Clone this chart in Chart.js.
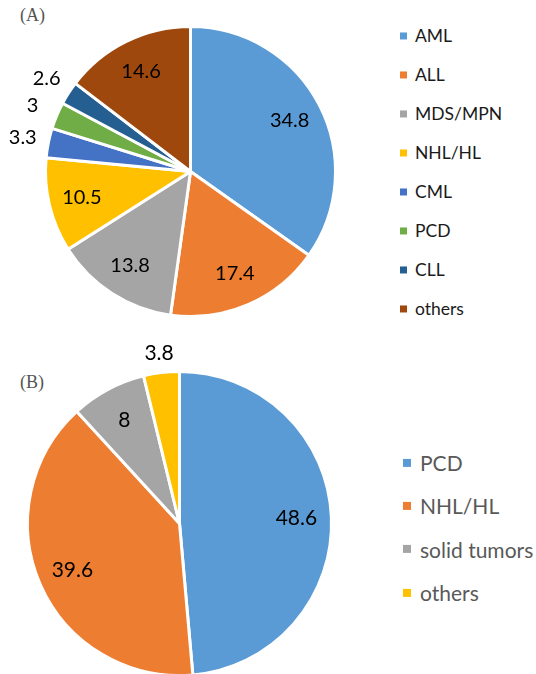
<!DOCTYPE html>
<html>
<head>
<meta charset="utf-8">
<script src="https://cdn.jsdelivr.net/npm/chart.js@4.4.1/dist/chart.umd.min.js"></script>
<style>
  html, body { margin: 0; padding: 0; background: #fff; width: 536px; height: 674px; overflow: hidden; }
  #page { position: relative; width: 536px; height: 674px; }
  canvas { position: absolute; left: 0; }
  .tag { position: absolute; left: 20px; font: 18px "Liberation Serif", serif; color: #555; }
  .legend { position: absolute; font-family: Lato, "Open Sans", sans-serif; }
  .legend div { position: absolute; white-space: nowrap; transform: translateY(-50%); }
  .legend span { display: inline-block; vertical-align: middle; }
</style>
</head>
<body>
<div id="page">
  <div class="tag" style="top:5px">(A)</div>
  <div class="tag" style="top:372px">(B)</div>
  <canvas id="chartA" width="382" height="344" style="top:0"></canvas>
  <canvas id="chartB" width="360" height="360" style="top:340px"></canvas>
  <div class="legend" id="legA"></div>
  <div class="legend" id="legB"></div>
</div>
<script>
// --- data --------------------------------------------------------------------
const labelsA = ['AML', 'ALL', 'MDS/MPN', 'NHL/HL', 'CML', 'PCD', 'CLL', 'others'];
const valuesA = [34.8, 17.4, 13.8, 10.5, 3.3, 3, 2.6, 14.6];
const colorsA = ['#5B9BD5', '#ED7D31', '#A5A5A5', '#FFC000', '#4472C4', '#70AD47', '#255E91', '#9E480E'];

const labelsB = ['PCD', 'NHL/HL', 'solid tumors', 'others'];
const valuesB = [48.6, 39.6, 8, 3.8];
const colorsB = ['#5B9BD5', '#ED7D31', '#A5A5A5', '#FFC000'];

// value labels: inside the slice, or just outside for thin slices
const sliceLabels = {
  id: 'sliceLabels',
  afterDatasetsDraw(chart, args, opts) {
    const { ctx } = chart;
    const meta = chart.getDatasetMeta(0);
    const vals = chart.data.datasets[0].data;
    ctx.save();
    ctx.font = opts.font;
    ctx.fillStyle = '#000';
    ctx.textAlign = 'center';
    ctx.textBaseline = 'middle';
    meta.data.forEach((arc, i) => {
      const { x, y, startAngle, endAngle, outerRadius } = arc.getProps(['x', 'y', 'startAngle', 'endAngle', 'outerRadius'], true);
      const mid = (startAngle + endAngle) / 2;
      const f = vals[i] < 5 ? opts.outside : opts.inside;
      ctx.fillText(String(vals[i]), x + Math.cos(mid) * outerRadius * f, y + Math.sin(mid) * outerRadius * f);
    });
    ctx.restore();
  },
};

function pie(id, labels, values, colors, padding, outside, font) {
  return new Chart(document.getElementById(id), {
    type: 'pie',
    data: { labels, datasets: [{ data: values, backgroundColor: colors, borderColor: '#fff', borderWidth: 3 }] },
    options: {
      responsive: false, animation: false,
      layout: { padding },
      plugins: { legend: { display: false }, tooltip: { enabled: false }, sliceLabels: { inside: 0.77, outside, font } },
    },
    plugins: [sliceLabels],
  });
}

pie('chartA', labelsA, valuesA, colorsA, { left: 44, right: 45, top: 25, bottom: 26 }, 1.18, '20px Lato, "Open Sans", sans-serif');
pie('chartB', labelsB, valuesB, colorsB, { left: 26, right: 27, top: 30, bottom: 23 }, 1.13, '21px Lato, "Open Sans", sans-serif');

// --- legends -----------------------------------------------------------------
function legend(id, labels, colors, x, y0, step, sq, gap, font, color) {
  const box = document.getElementById(id);
  labels.forEach((l, i) => {
    const d = document.createElement('div');
    d.style.left = x + 'px';
    d.style.top = (y0 + i * step) + 'px';
    d.style.font = font;
    d.style.color = color;
    d.innerHTML = `<span style="width:${sq}px;height:${sq}px;background:${colors[i]};margin-right:${gap}px"></span><span>${l}</span>`;
    box.append(d);
  });
}
legend('legA', labelsA, colorsA, 400, 35, 39, 7, 8, '17.5px Lato, "Open Sans", sans-serif', '#1a1a1a');
legend('legB', labelsB, colorsB, 403, 461, 43.3, 8, 9, '21px Lato, "Open Sans", sans-serif', '#595959');
</script>
</body>
</html>
